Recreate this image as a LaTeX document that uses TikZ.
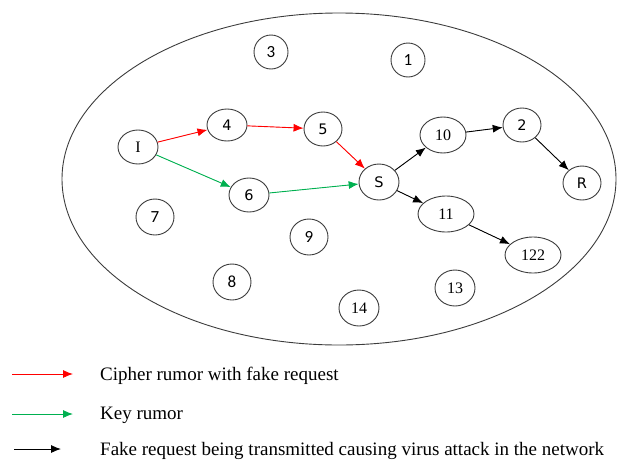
\documentclass[tikz,border=0pt]{standalone}
\usepackage{fontspec}
\setmainfont{Liberation Serif}
\newfontfamily\sansdig{DejaVu Sans}
\newfontfamily\carl{Carlito}
\usetikzlibrary{arrows.meta,shapes.geometric}
\definecolor{rumred}{RGB}{255,0,0}
\definecolor{rumgreen}{RGB}{0,176,80}
\definecolor{edgegray}{RGB}{60,60,60}
\tikzset{
  nd/.style={ellipse,draw=edgegray,line width=0.9pt,inner sep=0pt,minimum width=38pt,minimum height=34pt},
  wide/.style={nd,minimum width=50pt,minimum height=36pt},
  dv/.style={font=\sansdig\fontsize{14.5}{14.5}\selectfont},
  cb/.style={font=\carl\fontsize{17}{17}\selectfont},
  tm/.style={font=\fontsize{16}{16}\selectfont},
  arr/.style={line width=0.9pt,-{Latex[length=10pt,width=8pt]}},
  redarr/.style={arr,draw=rumred,fill=rumred},
  grnarr/.style={arr,draw=rumgreen,fill=rumgreen},
  blkarr/.style={arr,draw=black,fill=black},
  legtxt/.style={anchor=base west,inner sep=0pt,font=\fontsize{19}{19}\selectfont}
}
\begin{document}
\begin{tikzpicture}[x=1pt,y=-1pt]
\useasboundingbox (0,0) rectangle (620,466);
\node[ellipse,draw=edgegray,line width=0.9pt,minimum width=554pt,minimum height=332pt,inner sep=0pt] (net) at (339,179) {};
\node[nd,cb,minimum width=34pt] (n3) at (271,52) {3};
\node[nd,cb,minimum width=34pt] (n1) at (408,60) {1};
\node[nd,tm,minimum width=40pt] (nI) at (138,147) {I};
\node[nd,dv,minimum width=40pt,minimum height=32pt] (n4) at (227,125) {4};
\node[nd,dv] (n5) at (323,129) {5};
\node[nd,dv,minimum width=40pt,minimum height=36pt] (nS) at (379,182) {S};
\node[nd,dv,minimum width=40pt] (n6) at (249,195) {6};
\node[nd,tm,minimum width=46pt,minimum height=36pt] (n10) at (443,135) {10};
\node[nd,dv] (n2) at (522,125) {2};
\node[nd,dv] (nR) at (582,183) {R};
\node[wide,tm,minimum width=56pt] (n11) at (446,214) {11};
\node[wide,tm,minimum width=56pt] (n122) at (533,255) {122};
\node[nd,cb,minimum height=36pt] (n7) at (155,217) {7};
\node[nd,cb,minimum height=36pt] (n9) at (309,237) {9};
\node[nd,cb,minimum height=36pt] (n8) at (232,282) {8};
\node[nd,tm,minimum width=40pt,minimum height=36pt] (n13) at (455,288) {13};
\node[nd,tm,minimum width=40pt,minimum height=36pt] (n14) at (359,308) {14};
\draw[redarr] (nI) -- (n4);
\draw[redarr] (n4) -- (n5);
\draw[redarr] (n5) -- (nS);
\draw[grnarr] (nI) -- (n6);
\draw[grnarr] (n6) -- (nS);
\draw[blkarr] (nS) -- (n10);
\draw[blkarr] (n10) -- (n2);
\draw[blkarr] (n2) -- (nR);
\draw[blkarr] (nS) -- (n11);
\draw[blkarr] (n11) -- (n122);
\coordinate (la1) at (12,374); \coordinate (lb1) at (73,374);
\coordinate (la2) at (12,414); \coordinate (lb2) at (73,414);
\coordinate (la3) at (14,449); \coordinate (lb3) at (61,449);
\draw[redarr] (la1) -- (lb1);
\draw[grnarr] (la2) -- (lb2);
\draw[blkarr] (la3) -- (lb3);
\node[legtxt] (t1) at (100,380) {Cipher rumor with fake request};
\node[legtxt] (t2) at (100,419) {Key rumor};
\node[legtxt] (t3) at (100,455) {Fake request being transmitted causing virus attack in the network};
\end{tikzpicture}
\end{document}
